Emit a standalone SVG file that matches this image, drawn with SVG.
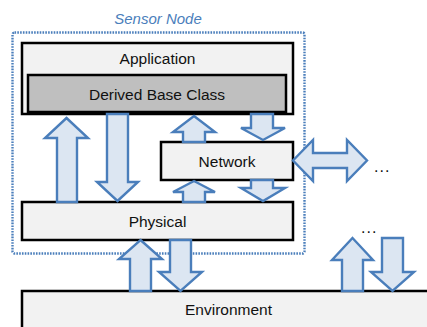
<svg xmlns="http://www.w3.org/2000/svg" width="427" height="327" viewBox="0 0 427 327">
<style>
.box{fill:#f2f2f2;stroke:#000;stroke-width:2.5}
.dbox{fill:#bfbfbf;stroke:#000;stroke-width:2.5}
.lbl{font-family:"Liberation Sans",Arial,sans-serif;font-size:15.5px;fill:#111;text-anchor:middle}
.arr{fill:#dce6f2;stroke:#4a7ebb;stroke-width:2.4;stroke-linejoin:miter}
.dots{font-family:"Liberation Sans",Arial,sans-serif;font-size:16px;fill:#111;letter-spacing:1px}
</style>
<rect width="427" height="327" fill="#fff"/>
<g id="sensor-node">
<rect x="12.5" y="32.5" width="292" height="221" rx="2" fill="none" stroke="#4a7ebb" stroke-width="2.4" stroke-dasharray="1.6 1.2"/>
<text x="158" y="24" font-family="'Liberation Sans',Arial,sans-serif" font-size="15" font-style="italic" fill="#4a7ebb" text-anchor="middle">Sensor Node</text>
</g>
<g id="application">
<rect class="box" x="22" y="43" width="271" height="71"/>
<text class="lbl" x="157.5" y="64">Application</text>
</g>
<g id="derived-base-class">
<rect class="dbox" x="28" y="75" width="258" height="37"/>
<text class="lbl" x="157" y="100">Derived Base Class</text>
</g>
<g id="network">
<rect class="box" x="161" y="142" width="132" height="38"/>
<text class="lbl" x="227" y="167">Network</text>
</g>
<g id="physical">
<rect class="box" x="22" y="202" width="271" height="38"/>
<text class="lbl" x="157.5" y="227">Physical</text>
</g>
<g id="environment">
<rect class="box" x="22" y="291" width="420" height="45"/>
<text class="lbl" x="228.5" y="315">Environment</text>
</g>
<g id="connectors">
<path class="arr" d="M66.5,118 L88,138 L77,138 L77,202 L57,202 L57,138 L45,138 Z"/>
<path class="arr" d="M107,114 L128,114 L128,182 L138,182 L117.5,201 L97,182 L107,182 Z"/>
<path class="arr" d="M194,116 L215,132 L205,132 L205,142 L183,142 L183,132 L173,132 Z"/>
<path class="arr" d="M251,114 L273,114 L273,128 L285,128 L263,140 L241,128 L251,128 Z"/>
<path class="arr" d="M194,181 L215,192 L205,192 L205,202 L183,202 L183,192 L173,192 Z"/>
<path class="arr" d="M251,180 L273,180 L273,188 L285,188 L263,201 L241,188 L251,188 Z"/>
<path class="arr" d="M293,160.5 L313,140 L313,153 L347,153 L347,140 L367,160.5 L347,181 L347,168 L313,168 L313,181 Z"/>
<path class="arr" d="M140.5,240 L162,259 L151,259 L151,291 L130,291 L130,259 L119,259 Z"/>
<path class="arr" d="M170,240 L191,240 L191,272 L202,272 L180.5,291 L159,272 L170,272 Z"/>
<path class="arr" d="M352.5,238 L373,260 L363,260 L363,291 L342,291 L342,260 L332,260 Z"/>
<path class="arr" d="M382,238 L403,238 L403,272 L414,272 L392.5,291 L371,272 L382,272 Z"/>
</g>
<text class="dots" x="374" y="172">...</text>
<text class="dots" x="361" y="233">...</text>
</svg>
